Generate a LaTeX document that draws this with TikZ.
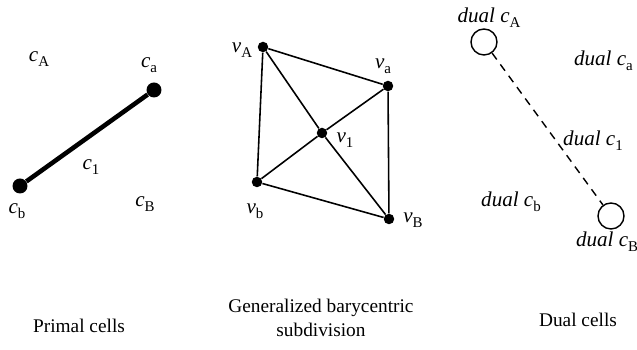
\documentclass[tikz,border=0pt]{standalone}
\usepackage{fontspec}
\setmainfont{Liberation Serif}
\usetikzlibrary{positioning}
\tikzset{
    cellpic/.style={x=0.02cm, y=-0.02cm, font=\fontsize{10}{12}\selectfont},
    bigdot/.style={fill, circle, inner sep=0pt, minimum size=0.3cm},
    vdot/.style={fill, circle, inner sep=0pt, minimum size=0.21cm},
    hollow/.style={draw, circle, inner sep=0pt, minimum size=0.52cm, line width=0.8pt},
    lbl/.style={inner sep=1pt, font=\fontsize{12}{14}\selectfont},
    caption/.style={align=center, font=\fontsize{11}{13.5}\selectfont},
    primal/.style={line width=2.6pt},
    subdiv/.style={line width=0.9pt},
    dualedge/.style={line width=0.8pt, dash pattern=on 4.5pt off 3.5pt},
}
\newcommand{\lowsub}[1]{\raisebox{-0.55ex}{\fontsize{8.5}{9}\selectfont #1}}
\newcommand{\cellc}[1]{\textit{c}\lowsub{#1}}
\newcommand{\cellv}[1]{\textit{v}\lowsub{#1}}
\newcommand{\dualc}[1]{\textit{dual c}\lowsub{#1}}
\begin{document}
\begin{tikzpicture}[cellpic]
    \useasboundingbox (0,0) rectangle (637,350);

    % primal cells
    \node[bigdot] (ca) at (154,90)  {};
    \node[bigdot] (cb) at (20,186)  {};
    \draw[primal] (ca) -- (cb);
    \node[lbl] (lA)  at (39,59)   {\cellc{A}};
    \node[lbl] (la)  at (149,65)  {\cellc{a}};
    \node[lbl] (l1)  at (91,167)  {\cellc{1}};
    \node[lbl] (lb)  at (17,211)  {\cellc{b}};
    \node[lbl] (lB)  at (145,204) {\cellc{B}};
    \node[caption] (cap1) at (79,326) {Primal cells};

    % barycentric subdivision
    \node[vdot] (vA) at (263,47)  {};
    \node[vdot] (va) at (388,86)  {};
    \node[vdot] (v1) at (322,133) {};
    \node[vdot] (vb) at (257,182) {};
    \node[vdot] (vB) at (389,219) {};
    \draw[subdiv] (vA) -- (va) -- (vB) -- (vb) -- (vA);
    \draw[subdiv] (vA) -- (v1) -- (vB);
    \draw[subdiv] (va) -- (v1) -- (vb);
    \node[lbl] (mA) at (242,50)  {\cellv{A}};
    \node[lbl] (ma) at (383,66)  {\cellv{a}};
    \node[lbl] (m1) at (345,140) {\cellv{1}};
    \node[lbl] (mb) at (255,211) {\cellv{b}};
    \node[lbl] (mB) at (413,220) {\cellv{B}};
    \node[caption] (cap2) at (321,318) {Generalized barycentric\\subdivision};

    % dual cells
    \node[hollow] (dA) at (484,42)  {};
    \node[hollow] (dB) at (611,216) {};
    \draw[dualedge] (dA) -- (dB);
    \node[lbl] (nA) at (489,18)  {\dualc{A}};
    \node[lbl, anchor=west] (na) at (572,61) {\dualc{a}};
    \node[lbl] (n1) at (593,141) {\dualc{1}};
    \node[lbl] (nb) at (511,202) {\dualc{b}};
    \node[lbl, anchor=west] (nB) at (574,242) {\dualc{B}};
    \node[caption] (cap3) at (578,320) {Dual cells};
\end{tikzpicture}
\end{document}
